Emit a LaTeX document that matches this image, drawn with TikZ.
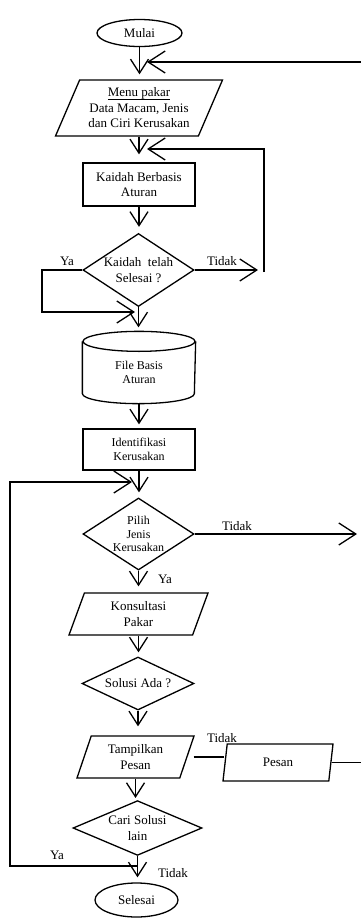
\documentclass[tikz,border=0pt]{standalone}
\usepackage{fontspec}
\setmainfont{Liberation Serif}
\usepackage{tikz}
\usetikzlibrary{shapes.geometric}
\usetikzlibrary{arrows.meta}
\newcommand{\garisbawah}[1]{\setbox0\hbox{#1}\rlap{\rule[-2.5pt]{\wd0}{0.9pt}}\box0}

\begin{document}
\begin{tikzpicture}[x=1pt, y=1pt, line width=1.3pt,
    txt/.style={font=\fontsize{13}{15.5}\selectfont, align=center},
    smalltxt/.style={font=\fontsize{12}{13.5}\selectfont, align=center},
    term/.style={ellipse, draw, txt, inner sep=0pt, minimum width=85, minimum height=27},
    box/.style={rectangle, draw, txt, inner sep=0pt, minimum width=112},
    io/.style={trapezium, draw, txt, inner sep=0pt, trapezium stretches body},
    dec/.style={diamond, draw, txt, inner sep=-7pt},
    arr/.style={-{Straight Barb[length=14pt, width=18pt]}},
    arrh/.style={-{Straight Barb[length=17pt, width=22pt]}}]
    \useasboundingbox (0,0) rectangle (361,-919);
    \node[term] (mulai) at (139.5,-33) {Mulai};
    \node[io, minimum width=167, minimum height=56, trapezium left angle=59, trapezium right angle=121] (menu) at (139,-108) {\garisbawah{Menu pakar}\\Data Macam, Jenis\\dan Ciri Kerusakan};
    \node[box, minimum height=43] (kaidah) at (139,-184.5) {Kaidah Berbasis\\Aturan};
    \node[dec, minimum width=111, minimum height=73] (cek) at (138.5,-270) {Kaidah\ \ telah\\Selesai ?};
    \node[smalltxt, minimum width=112, minimum height=61] (file) at (139,-372.5) {File Basis\\Aturan};
    \node[box, smalltxt, minimum height=41] (ident) at (139,-449.5) {Identifikasi\\Kerusakan};
    \node[dec, smalltxt, minimum width=111, minimum height=72] (pilih) at (138.5,-534) {Pilih\\Jenis\\Kerusakan};
    \node[io, minimum width=139, minimum height=42, trapezium left angle=58, trapezium right angle=122] (konsul) at (138.5,-614) {Konsultasi\\Pakar};
    \node[dec, minimum width=112, minimum height=53] (solusi) at (138,-683.5) {Solusi Ada ?};
    \node[io, minimum width=117, minimum height=42, trapezium left angle=60, trapezium right angle=120] (tampil) at (135.5,-757) {Tampilkan\\Pesan};
    \node[io, minimum width=110, minimum height=37, trapezium left angle=64, trapezium right angle=116] (pesan) at (278,-762.5) {Pesan};
    \node[dec, minimum width=129, minimum height=54] (cari) at (137.5,-828) {Cari Solusi\\lain};
    \node[term, minimum width=83, minimum height=34] (selesai) at (136.5,-900) {Selesai};

    \draw (file.north) ellipse (56pt and 10pt);
    \draw (file.north west) -- ([yshift=10pt]file.south west) arc (180:360:56pt and 10pt) -- (file.north east);

    \foreach \a/\b/\s in {mulai/menu/5pt, menu/kaidah/8pt, kaidah/cek/6pt, cek/file/14pt, file/ident/4pt, ident/pilih/5pt, pilih/konsul/6pt, konsul/solusi/4pt, solusi/tampil/9pt, tampil/cari/2pt, cari/selesai/5pt}
        \draw[arr, shorten >=\s] (\a.south) -- (\a.south |- \b.north);

    \coordinate (r0) at (361,-62);
    \coordinate (k0) at (147,-62);
    \draw[arrh] (r0) -- (k0);
    \coordinate (c1) at (42,-312);
    \coordinate (j1) at (135,-312);
    \draw[arrh] (cek.west) -| (c1) -- (j1);
    \coordinate (t1) at (258,-270);
    \draw[arrh] (cek.east) -- (t1);
    \coordinate (r1) at (264,-272);
    \coordinate (k1) at (147,-149);
    \draw[arrh] (r1) |- (k1);
    \coordinate (t2) at (357,-534);
    \draw[arrh] (pilih.east) -- (t2);
    \draw[shorten <=6pt] (tampil.east) -- (tampil.east -| pesan.west);
    \coordinate (r4) at (361,-757);
    \draw (pesan.east) -- (pesan.east -| r4);
    \coordinate (c2) at (137.5,-866);
    \coordinate (c3) at (10,-482);
    \coordinate (j2) at (132,-482);
    \draw[arrh] (c2) -| (c3) -- (j2);

    \node[txt] (ya1) at (67,-261) {Ya};
    \node[txt] (tidak1) at (222,-261) {Tidak};
    \node[txt] (tidak2) at (237,-526) {Tidak};
    \node[txt] (ya2) at (165,-579) {Ya};
    \node[txt] (tidak3) at (222,-738) {Tidak};
    \node[txt] (ya3) at (57,-855) {Ya};
    \node[txt] (tidak4) at (173,-873) {Tidak};
\end{tikzpicture}
\end{document}
